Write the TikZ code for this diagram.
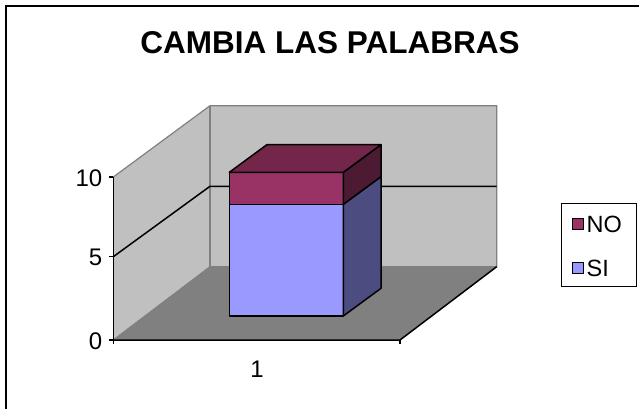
\documentclass[tikz,border=0pt]{standalone}
\usepackage{fontspec}
\setmainfont{Liberation Sans}
\usepackage{tikz}
\usetikzlibrary{positioning}

\definecolor{wallgray}{HTML}{C0C0C0}
\definecolor{floorgray}{HTML}{808080}
\definecolor{sifront}{HTML}{9999FF}
\definecolor{siside}{HTML}{4C4C80}
\definecolor{nofront}{HTML}{993366}
\definecolor{notop}{HTML}{732649}
\definecolor{noside}{HTML}{4D1A33}

\begin{document}
\begin{tikzpicture}[x=1pt,y=-1pt,
  lbl/.style={font=\fontsize{24}{28}\selectfont,inner sep=0pt},
  legtxt/.style={font=\fontsize{23.5}{27}\selectfont,inner sep=0pt},
  keybox/.style={draw=black,line width=0.8pt,minimum size=11pt,inner sep=0pt},
  edge/.style={draw=floorgray,line width=1.2pt},
  face/.style={draw=black,line width=1.5pt,line join=round}]
\useasboundingbox (0,0) rectangle (639,409);
% Chart area border
\draw[line width=2pt] (6,409) -- (6,6) -- (639,6);

% Title
\node[font=\bfseries\fontsize{31.5}{36}\selectfont,inner sep=0pt] (title) at (330,43) {CAMBIA LAS PALABRAS};

% Walls and floor
\fill[wallgray] (113.3,177) -- (210,105.7) -- (210,266.7) -- (113.3,340) -- cycle;
\fill[wallgray] (210,105.7) rectangle (496.7,266.7);
\fill[floorgray] (113.3,340) -- (210,266.7) -- (496.7,266.7) -- (400,340) -- cycle;
\draw[edge] (113.3,177) -- (210,105.7) -- (496.7,105.7) -- (496.7,266.7) -- (210,266.7) -- (113.3,340);
\draw[edge] (210,105.7) -- (210,266.7);

% Gridline at 5
\draw[line width=1.5pt] (113.3,256.7) -- (210,186.3) -- (496.7,186.3);

% Axes
\draw[line width=1.5pt] (113.3,177) -- (113.3,344);
\draw[line width=1.5pt] (113.3,340) -- (400,340) -- (496.7,266.7);
\draw[line width=1.5pt] (400,340) -- (400,344);
\foreach \y/\v in {340/0,256.7/5,177/10}{
  \draw[line width=1.5pt] (109,\y) -- (113.3,\y);
  \node[lbl,anchor=east] (ylab\v) at (102.5,\y+1) {\v};
}
\node[lbl] (xlab) at (257,369) {1};

% Bar SI
\filldraw[face,fill=sifront] (229.3,204.3) rectangle (343.3,316);
\filldraw[face,fill=siside] (343.3,204.3) -- (381,176.6) -- (381,288.3) -- (343.3,316) -- cycle;

% Bar NO
\filldraw[face,fill=nofront] (229.3,172.3) rectangle (343.3,204.3);
\filldraw[face,fill=noside] (343.3,172.3) -- (381,144.6) -- (381,176.6) -- (343.3,204.3) -- cycle;
\filldraw[face,fill=notop] (229.3,172.3) -- (267,144.6) -- (381,144.6) -- (343.3,172.3) -- cycle;

% Legend
\draw[line width=1pt,fill=white] (561.7,203.3) rectangle (636.7,286.7);
\node[keybox,fill=nofront] (nokey) at (577.5,224) {};
\node[legtxt,right=3pt of nokey] (notxt) {NO};
\node[keybox,fill=sifront] (sikey) at (577.5,268) {};
\node[legtxt,right=3pt of sikey] (sitxt) {SI};
\end{tikzpicture}
\end{document}
